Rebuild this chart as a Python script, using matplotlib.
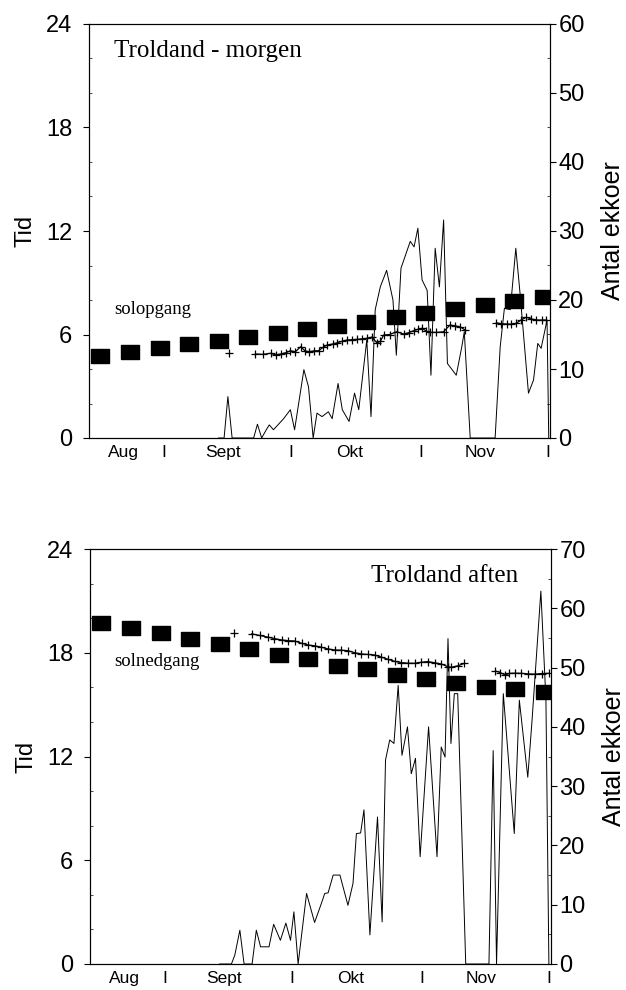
import matplotlib
matplotlib.use("Agg")
import matplotlib.pyplot as plt
from matplotlib.ticker import MultipleLocator
import numpy as np

# dage regnet fra 1. august (1. sept = 31, 1. okt = 61, 1. nov = 92, 1. dec = 122)
x_ticks = [21.5, 31, 45, 61, 75, 92, 106, 122]
x_labels = ["Aug", "I", "Sept", "I", "Okt", "I", "Nov", "I"]

# solopgang / solnedgang (ugentlige)
sol_dage = [16, 23, 30, 37, 44, 51, 58, 65, 72, 79, 86, 93, 100, 107, 114, 121]
solopgang = [4.75, 4.97, 5.2, 5.43, 5.64, 5.87, 6.1, 6.3, 6.51, 6.74, 7.0, 7.23, 7.48, 7.7, 7.94, 8.19]
solnedgang = [19.72, 19.41, 19.14, 18.8, 18.49, 18.2, 17.87, 17.62, 17.24, 17.04, 16.71, 16.48, 16.27,
              16.04, 15.89, 15.71]

# morgen - tidspunkt (krydser)
morgen_dag = [46.4, np.nan, 52.7, 54.5, 56.3, 57.5, 58.7, 60, 61, 62.2, 63.4, 64.5, 65.4, 66.5, 67.7, 68.7,
              69.7, 71, 72.1, 73.2, 74.4, 75.6, 76.8, 78, 79.2, 80.3, 81.5, 82.3, 83.1, 84.5, 86.2, 87.8,
              89, 90.2, 91.2, 92.2, 93.2, 94.1, 95.5, 97.3, 98.8, 100, 101.2, 102.4, np.nan,
              109.8, 111, 112.2, 113.3, 114.5, 115.7, 116.9, 118.1, 119.3, 120.5, 121.6]
morgen_tid = [4.95, np.nan, 4.87, 4.85, 4.91, 4.82, 4.87, 4.95, 5.06, 5.0, 5.29, 5.05, 5.0, 5.05, 5.06, 5.25,
              5.39, 5.45, 5.52, 5.6, 5.68, 5.7, 5.72, 5.75, 5.78, 5.85, 5.52, 5.6, 5.97, 6.0, 6.16, 6.03,
              6.1, 6.22, 6.3, 6.36, 6.2, 6.13, 6.12, 6.16, 6.55, 6.5, 6.45, 6.26, np.nan,
              6.68, 6.62, 6.61, 6.6, 6.65, 6.85, 7.0, 6.9, 6.84, 6.84, 6.84]

# morgen - antal ekkoer
ekko_m_dag = [44, 45.3, 46.2, 47.2, 52.3, 53.2, 54.2, 55.3, 56, 57, 58.2, 59.4, 61, 62, 64.2, 65.3, 66.4,
              67.3, 68.5, 70, 70.9, 72.3, 73.3, 74.9, 76.2, 77.2, 79.1, 80.1, 81.1, 82.3, 83.8, 85.3,
              86.1, 87.2, 89.4, 90.3, 91.2, 92.2, 93.4, 94.3, 95.3, 96.3, 97.3, 98.2, 100.3, 101.6,
              102.2, 103.6, 109.5, 110.7, 111.7, 113.1, 114.4, 115.4, 117.4, 118.6, 119.6, 120.4,
              121.8, 122.2]
ekko_m = [0, 0, 6.0, 0, 0, 2.0, 0, 1.2, 1.9, 1.2, 2.0, 2.8, 4.1, 1.2, 9.9, 7.4, 0,
          3.6, 3.1, 3.8, 2.8, 7.9, 4.1, 2.4, 6.5, 4.1, 14.2, 3.1, 18.6, 21.9, 24.3, 20.0,
          12.0, 24.6, 28.5, 27.7, 30.4, 22.9, 21.4, 9.1, 27.5, 21.9, 31.6, 10.8, 9.1, 13.2,
          15.4, 0, 0, 13.2, 18.8, 18.6, 27.5, 21.0, 6.5, 8.4, 13.7, 13.0,
          17.1, 0]

# aften - tidspunkt (krydser)
aften_dag = [47.5, np.nan, 51.6, 53.5, 55.5, 57, 58.7, 60.2, 61.8, 63.4, 65, 66.5, 68.1, 69.7, 71.3, 72.8,
             74.4, 76, 77.6, 79.2, 80.7, 82.3, 83.9, 85.5, 87, 88.6, 90.2, 91.8, 93.3, 95, 96.5, 98,
             98.8, 100.4, 102, np.nan,
             109.3, 110.5, 111.7, 112.6, 114, 115.4, 117, 118.6, 120.3, 122]
aften_tid = [19.16, np.nan, 19.09, 19.0, 18.9, 18.82, 18.74, 18.7, 18.68, 18.55, 18.45, 18.4, 18.32, 18.22,
             18.16, 18.15, 18.12, 18.0, 17.93, 17.9, 17.87, 17.75, 17.62, 17.5, 17.43, 17.4, 17.39, 17.45,
             17.49, 17.42, 17.35, 17.2, 17.16, 17.24, 17.39, np.nan,
             16.95, 16.85, 16.71, 16.81, 16.82, 16.81, 16.78, 16.76, 16.8, 16.81]

# aften - antal ekkoer
ekko_a_dag = [44, 46.8, 47.6, 48.8, 49.8, 51.7, 52.7, 53.7, 55.7, 56.8, 58.4, 59.7, 60.8, 61.6, 62.6,
              64.6, 66.5, 68.1, 68.9, 69.7, 70.9, 72.5, 74.4, 75.6, 76.4, 77.4, 78.2, 79.6, 81.4, 82.5,
              83.3, 84.3, 85.3, 86.3, 87.2, 88.5, 89.4, 90.4, 91.5, 93.5, 95.5, 96.5, 97.4, 98.1, 98.8,
              99.6, 100.4, 102.3, 107.8, 108.8, 109.6, 111.2, 113.8, 115.0, 117.0, 118.0, 120.1,
              121.3, 122.0]
ekko_a = [0, 0, 1.5, 5.7, 0, 0, 5.7, 2.9, 2.9, 6.7, 4.0, 6.9, 4.0, 8.8, 0,
          11.9, 7.0, 10.2, 11.9, 12.0, 15.0, 15.0, 9.9, 13.6, 22.0, 22.1, 26.0, 4.9, 24.8, 7.1,
          34.4, 37.8, 37.2, 47.0, 35.2, 40.0, 32.1, 34.7, 18.1, 40.0, 18.1, 36.6, 34.9, 54.9, 37.2,
          45.6, 45.6, 0, 0, 36.0, 0, 45.6, 22.0, 44.5, 31.5, 41.0, 62.9,
          44.5, 0]

plt.rcParams['font.family'] = ['Liberation Sans', 'DejaVu Sans']

rekt = [(-1, -0.76), (1, -0.76), (1, 0.76), (-1, 0.76), (-1, -0.76)]


def panel(ax, sol, kryds_dag, kryds_tid, ekko_dag, ekko, ymax2, titel, titel_pos, sol_tekst, sol_pos):
    ax.set_xlim(13.3, 122.5)
    ax.set_ylim(0, 24)
    ax.set_yticks([0, 6, 12, 18, 24])
    ax.yaxis.set_minor_locator(MultipleLocator(2))
    ax.set_xticks(x_ticks)
    ax.set_xticklabels(x_labels)
    ax.tick_params(axis="x", length=0, pad=5, labelsize=12.5)
    ax.tick_params(axis="y", which="major", direction="out", length=4, width=0.8, labelsize=17, pad=8)
    ax.tick_params(axis="y", which="minor", direction="in", length=2, width=0.5)
    ax.set_ylabel("Tid", fontsize=17, labelpad=7)
    for s in ax.spines.values():
        s.set_linewidth(0.8)

    ax.plot(sol_dage, sol, linestyle="none", marker=rekt, markersize=12.5, color="black")
    ax.plot(kryds_dag, kryds_tid, "-+", color="black", linewidth=0.9, markersize=6, markeredgewidth=0.9)

    ax2 = ax.twinx()
    ax2.set_ylim(0, ymax2)
    ax2.set_yticks(range(0, ymax2 + 1, 10))
    ax2.yaxis.set_minor_locator(MultipleLocator(5))
    ax2.tick_params(axis="y", which="major", direction="out", length=4, width=0.8, labelsize=17, pad=2)
    ax2.tick_params(axis="y", which="minor", direction="in", length=2, width=0.5)
    ax2.set_ylabel("Antal ekkoer", fontsize=18, labelpad=12)
    ax2.plot(ekko_dag, ekko, color="black", linewidth=0.7)

    ax.text(titel_pos[0], titel_pos[1], titel, transform=ax.transAxes, fontsize=18,
            family="Liberation Serif", va="center")
    ax.text(sol_pos[0], sol_pos[1], sol_tekst, transform=ax.transAxes, fontsize=13.5,
            family="Liberation Serif", va="center")


fig = plt.figure(figsize=(6.26, 9.9), dpi=100)
ax_top = fig.add_axes([89 / 626, 1 - 438 / 990, 461 / 626, 414 / 990])
ax_bot = fig.add_axes([90 / 626, 1 - 964 / 990, 461 / 626, 415 / 990])

panel(ax_top, solopgang, morgen_dag, morgen_tid, ekko_m_dag, ekko_m, 60,
      "Troldand - morgen", (0.055, 0.935), "solopgang", (0.055, 0.31))
panel(ax_bot, solnedgang, aften_dag, aften_tid, ekko_a_dag, ekko_a, 70,
      "Troldand aften", (0.61, 0.935), "solnedgang", (0.052, 0.73))

fig.savefig("out.png", dpi=100)
